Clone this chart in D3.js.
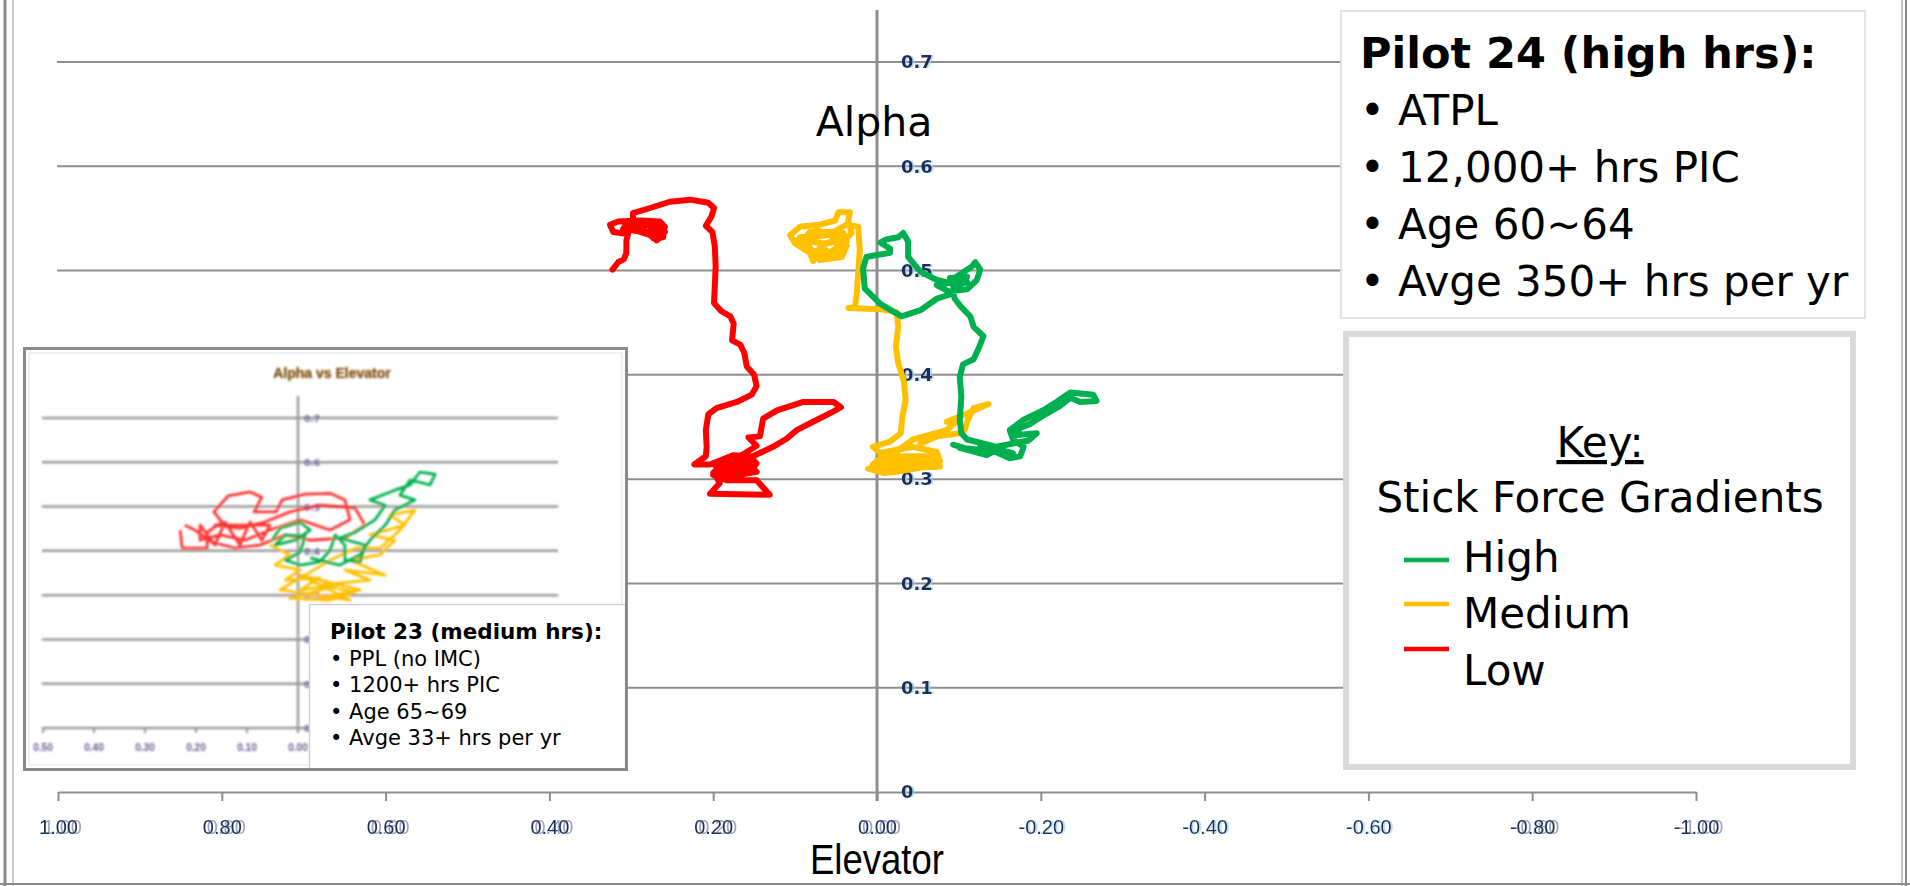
<!DOCTYPE html>
<html>
<head>
<meta charset="utf-8">
<script src="https://cdn.jsdelivr.net/npm/d3@7"></script>
<style>
  html, body { margin: 0; padding: 0; background: #ffffff; }
  svg { display: block; }
</style>
</head>
<body>
<svg id="chart" width="1910" height="886"></svg>
<script>
// ---- Axis ticks ----
const elevatorTicks = [1, 0.8, 0.6, 0.4, 0.2, 0, -0.2, -0.4, -0.6, -0.8, -1];
const alphaTicks = [0, 0.1, 0.2, 0.3, 0.4, 0.5, 0.6, 0.7];

// ---- Pilot 24 traces: elevator position vs alpha, one per stick force gradient ----
const lowElevator = [0.323,0.316,0.309,0.306,0.306,0.304,0.322,0.326,0.316,0.289,
  0.265,0.259,0.261,0.269,0.277,0.293,0.310,0.308,0.281,0.263,
  0.265,0.277,0.263,0.261,0.273,0.267,0.259,0.269,
  0.298,0.298,0.277,0.253,0.228,0.206,0.199,0.202,
  0.209,0.201,0.198,0.197,0.198,0.199,0.190,0.179,0.175,0.177,
  0.167,0.162,0.159,0.150,0.147,0.153,0.171,0.196,0.206,0.209,
  0.208,0.209,0.223,0.204,0.175,0.155,0.147,0.153,0.175,0.200,
  0.192,0.151,0.196,0.167,0.147,0.184,0.200,0.155,
  0.163,0.143,0.127,0.110,0.098,0.078,0.053,0.044,0.053,
  0.090,0.122,0.139,0.143,0.157,0.147,0.167,0.196,0.192,0.204,
  0.131,0.147,0.184,0.200];
const lowAlpha = [0.501,0.508,0.511,0.517,0.529,0.535,0.537,0.544,0.547,0.548,
  0.547,0.542,0.534,0.529,0.534,0.538,0.540,0.542,0.544,0.542,
  0.536,0.539,0.544,0.532,0.531,0.540,0.537,0.529,
  0.548,0.555,0.560,0.566,0.568,0.565,0.560,0.552,
  0.543,0.537,0.523,0.504,0.485,0.469,0.461,0.456,0.449,0.433,
  0.429,0.421,0.408,0.400,0.389,0.381,0.374,0.368,0.362,0.347,
  0.331,0.322,0.314,0.314,0.323,0.322,0.315,0.309,0.306,0.306,
  0.312,0.312,0.307,0.320,0.307,0.302,0.315,0.317,
  0.318,0.325,0.331,0.339,0.347,0.355,0.365,0.369,0.374,
  0.374,0.366,0.358,0.341,0.340,0.332,0.322,0.302,0.296,0.286,
  0.285,0.299,0.299,0.304];

const mediumElevator = [0.078,0.082,0.100,0.106,0.094,0.070,0.051,0.047,0.033,0.035,
  0.031,0.041,0.066,0.090,0.082,0.057,0.037,0.041,0.057,0.070,
  0.053,0.037,0.043,0.070,0.080,
  0.094,0.041,0.049,0.086,0.074,0.037,0.066,0.098,
  0.061,0.037,0.023,0.021,0.023,
  0.025,0.027,0.035,-0.004,-0.024,-0.026,-0.023,-0.026,-0.033,-0.035,
  -0.031,-0.029,-0.016,0.005,-0.004,-0.044,-0.073,-0.077,-0.053,-0.016,
  0.005,-0.004,-0.036,-0.065,-0.061,-0.024,-0.008,0.011,
  -0.073,0.000,-0.061,-0.012,-0.077,-0.004,
  -0.004,-0.044,-0.085,-0.097,-0.085,-0.110,-0.136,-0.118,-0.111,-0.107,-0.101,-0.073,-0.053];
const mediumAlpha = [0.509,0.517,0.526,0.534,0.542,0.544,0.548,0.556,0.556,0.548,
  0.536,0.528,0.526,0.529,0.537,0.537,0.532,0.520,0.517,0.523,
  0.529,0.524,0.513,0.510,0.520,
  0.532,0.536,0.515,0.520,0.539,0.528,0.513,0.529,
  0.534,0.544,0.542,0.520,0.497,
  0.475,0.465,0.464,0.463,0.460,0.446,0.427,0.411,0.393,0.376,
  0.360,0.344,0.336,0.331,0.325,0.331,0.326,0.317,0.312,0.310,
  0.314,0.320,0.322,0.322,0.312,0.307,0.306,0.310,
  0.322,0.318,0.315,0.325,0.312,0.310,
  0.315,0.338,0.347,0.355,0.355,0.363,0.372,0.368,0.357,0.347,0.344,0.341,0.334];

const highElevator = [-0.093,-0.118,-0.146,
  -0.134,-0.101,-0.166,-0.126,-0.162,
  -0.175,-0.179,-0.166,-0.162,-0.179,-0.203,-0.219,
  -0.236,-0.264,-0.268,-0.248,-0.236,-0.223,-0.203,
  -0.211,-0.195,-0.207,
  -0.187,-0.175,-0.166,
  -0.195,-0.185,-0.146,-0.110,-0.103,-0.101,-0.103,-0.101,-0.105,-0.118,
  -0.125,-0.130,-0.118,-0.114,-0.103,-0.095,-0.093,-0.073,-0.053,-0.030,
  -0.004,0.015,0.017,0.013,0.000,-0.016,-0.016,-0.004,-0.012,-0.026,
  -0.032,-0.038,-0.038,-0.053,-0.073,-0.101,-0.110,-0.089,
  -0.093,-0.110,-0.081,
  -0.073,-0.087,
  -0.110,-0.122,-0.126,-0.120,-0.116,-0.097,-0.081];
const highAlpha = [0.333,0.327,0.328,
  0.323,0.330,0.325,0.333,0.320,
  0.322,0.331,0.338,0.347,0.357,0.366,0.374,
  0.383,0.381,0.375,0.374,0.378,0.370,0.361,
  0.368,0.359,0.363,
  0.353,0.349,0.342,
  0.344,0.337,0.331,0.338,0.344,0.357,0.379,0.398,0.410,0.415,
  0.427,0.437,0.446,0.456,0.465,0.473,0.478,0.473,0.462,0.456,
  0.468,0.483,0.502,0.513,0.515,0.517,0.521,0.527,0.530,0.532,
  0.536,0.528,0.513,0.499,0.491,0.486,0.494,0.493,
  0.485,0.489,0.488,
  0.486,0.480,
  0.482,0.491,0.501,0.508,0.504,0.494,0.486];

// ---- Pilot 23 inset traces ----
const insetTicksX = [0.5, 0.4, 0.3, 0.2, 0.1, 0];
const insetTicksY = [0, 0.1, 0.2, 0.3, 0.4, 0.5, 0.6, 0.7];
const insetLowElevator = [0.231,0.227,0.178,0.178,0.149,0.165,0.137,0.094,0.071,0.086,
  0.043,0.031,-0.014,-0.063,-0.092,-0.102,-0.063,-0.004,0.055,0.104,
  0.153,0.192,0.192,0.163,0.143,0.114,0.094,0.071,0.055,
  0.163,0.114,0.065,0.016,-0.043,-0.112,-0.131,-0.092,
  -0.024,0.025,0.075,0.124,0.169,0.202,0.222];
const insetLowAlpha = [0.447,0.406,0.406,0.442,0.465,0.488,0.524,0.533,0.521,0.488,
  0.488,0.515,0.528,0.530,0.515,0.470,0.447,0.470,0.447,0.424,
  0.436,0.424,0.458,0.413,0.465,0.413,0.465,0.424,0.458,
  0.458,0.451,0.465,0.488,0.503,0.497,0.458,0.429,
  0.424,0.436,0.413,0.406,0.420,0.447,0.458];
const insetMediumElevator = [0.055,0.016,0.045,-0.004,0.025,-0.043,-0.004,-0.082,0.016,-0.063,
  -0.112,-0.043,-0.141,-0.092,-0.171,-0.102,-0.161,-0.190,-0.141,-0.210,
  -0.180,-0.229,-0.200,-0.161,-0.112,-0.063,-0.024,
  0.035,-0.102,-0.004,-0.122,-0.043];
const insetMediumAlpha = [0.413,0.391,0.368,0.357,0.334,0.339,0.312,0.323,0.293,0.289,
  0.307,0.323,0.334,0.357,0.345,0.379,0.391,0.424,0.436,0.458,
  0.481,0.492,0.447,0.406,0.406,0.379,0.352,
  0.312,0.289,0.345,0.312,0.293];
const insetHighElevator = [0.051,0.035,-0.004,-0.024,0.006,0.045,0.025,-0.014,-0.004,0.025,
  -0.004,-0.043,-0.063,-0.073,-0.092,-0.092,-0.122,-0.131,-0.082,-0.112,
  -0.151,-0.171,-0.141,-0.190,-0.220,-0.239,-0.269,-0.259,-0.220,-0.200,
  -0.229,-0.190,-0.171,-0.141,-0.122,-0.082,-0.024];
const insetHighAlpha = [0.424,0.451,0.465,0.447,0.424,0.413,0.436,0.433,0.397,0.379,
  0.368,0.375,0.402,0.436,0.413,0.379,0.375,0.413,0.429,0.442,
  0.470,0.503,0.515,0.537,0.549,0.578,0.573,0.549,0.560,0.526,
  0.515,0.492,0.458,0.424,0.391,0.368,0.384];

// ---- Text blocks ----
const pilot24Title = "Pilot 24 (high hrs):";
const pilot24Lines = ["ATPL", "12,000+ hrs PIC", "Age 60~64", "Avge 350+ hrs per yr"];
const pilot23Title = "Pilot 23 (medium hrs):";
const pilot23Lines = ["PPL (no IMC)", "1200+ hrs PIC", "Age 65~69", "Avge 33+ hrs per yr"];
const keyTitle = "Key:";
const keySubtitle = "Stick Force Gradients";
const gradientNames = ["High", "Medium", "Low"];

// ---- Drawing ----
const svg = d3.select("#chart");
const defs = svg.append("defs");
const GRID = "#8e8e8e";
const TICK_INK = "#1f2d55";
const seriesColor = { High: "#00b050", Medium: "#ffc000", Low: "#ff0000" };

// colour fringe behind tick labels
function fringe(id, dx, r, g, b, a) {
  const f = defs.append("filter").attr("id", id)
    .attr("x", "-30%").attr("y", "-30%").attr("width", "160%").attr("height", "160%");
  f.append("feOffset").attr("in", "SourceAlpha").attr("dx", dx).attr("dy", 0).attr("result", "off");
  f.append("feColorMatrix").attr("in", "off").attr("type", "matrix")
    .attr("values", `0 0 0 0 ${r}  0 0 0 0 ${g}  0 0 0 0 ${b}  0 0 0 ${a} 0`).attr("result", "col");
  const m = f.append("feMerge");
  m.append("feMergeNode").attr("in", "col");
  m.append("feMergeNode").attr("in", "SourceGraphic");
}
fringe("ghost", 1.5, 0.35, 0.65, 1, 0.75);
fringe("ghostWide", 4, 0.25, 0.3, 0.5, 0.85);
defs.append("filter").attr("id", "soft").append("feGaussianBlur").attr("stdDeviation", 0.45);
defs.append("filter").attr("id", "blurry").append("feGaussianBlur").attr("stdDeviation", 0.8);

// outer frame
svg.append("line").attr("x1", 5).attr("x2", 5).attr("y1", 0).attr("y2", 886).attr("stroke", "#8a8a8a").attr("stroke-width", 3);
svg.append("line").attr("x1", 13).attr("x2", 13).attr("y1", 0).attr("y2", 886).attr("stroke", "#c8c8c8").attr("stroke-width", 2);
svg.append("line").attr("x1", 1902).attr("x2", 1902).attr("y1", 0).attr("y2", 886).attr("stroke", "#c0c0c0").attr("stroke-width", 2);
svg.append("line").attr("x1", 1906).attr("x2", 1906).attr("y1", 0).attr("y2", 886).attr("stroke", "#8a8a8a").attr("stroke-width", 2);
svg.append("line").attr("x1", 0).attr("x2", 1910).attr("y1", 884).attr("y2", 884).attr("stroke", "#8a8a8a").attr("stroke-width", 2);

// main scales
const x = d3.scaleLinear().domain([1, -1]).range([58, 1696]);
const y = d3.scaleLinear().domain([0, 0.7]).range([792, 62]);

// horizontal gridlines
svg.append("g").selectAll("line").data(alphaTicks.filter(d => d > 0)).join("line")
  .attr("x1", 57).attr("x2", x(-1))
  .attr("y1", d => y(d)).attr("y2", d => y(d))
  .attr("stroke", GRID).attr("stroke-width", 2);

// elevator axis
const fmtElev = d => (d < 0 ? "-" : "") + Math.abs(d).toFixed(2);
const gx = svg.append("g").attr("transform", `translate(0,${y(0)})`)
  .call(d3.axisBottom(x).tickValues(elevatorTicks).tickFormat(fmtElev)
    .tickSize(9).tickSizeOuter(0).tickPadding(19));
gx.select(".domain").attr("stroke", GRID).attr("stroke-width", 2);
gx.selectAll(".tick line").attr("stroke", GRID).attr("stroke-width", 2);
gx.selectAll(".tick text")
  .attr("font-family", "'Liberation Sans Narrow', 'Liberation Sans', sans-serif")
  .attr("font-size", 20).attr("fill", TICK_INK)
  .attr("filter", d => (d >= 0 || d <= -0.8) ? "url(#ghostWide)" : "url(#ghost)");

// alpha axis line and labels
svg.append("line").attr("x1", x(0)).attr("x2", x(0)).attr("y1", 10).attr("y2", 801)
  .attr("stroke", GRID).attr("stroke-width", 3);
const gy = svg.append("g").attr("transform", `translate(${x(0)},0)`)
  .call(d3.axisRight(y).tickValues(alphaTicks).tickSize(0).tickPadding(24)
    .tickFormat(d => d === 0 ? "0" : d.toFixed(1)));
gy.select(".domain").remove();
gy.selectAll(".tick text")
  .attr("font-family", "'DejaVu Sans', sans-serif").attr("font-weight", "bold")
  .attr("font-size", 18).attr("fill", TICK_INK).attr("filter", "url(#ghost)");

// traces
const line = d3.line().x(d => x(d[0])).y(d => y(d[1]));
const mainSeries = [
  { name: "Low", xs: lowElevator, ys: lowAlpha },
  { name: "Medium", xs: mediumElevator, ys: mediumAlpha },
  { name: "High", xs: highElevator, ys: highAlpha }
];
svg.append("g").attr("filter", "url(#soft)").selectAll("path").data(mainSeries).join("path")
  .attr("d", s => line(d3.zip(s.xs, s.ys)))
  .attr("fill", "none").attr("stroke", s => seriesColor[s.name])
  .attr("stroke-width", 6).attr("stroke-linejoin", "round").attr("stroke-linecap", "round");

// axis titles
svg.append("text").attr("x", 874).attr("y", 136).attr("text-anchor", "middle")
  .attr("font-family", "'DejaVu Sans', sans-serif").attr("font-size", 41).attr("fill", "#000")
  .text("Alpha");
svg.append("text").attr("x", 877).attr("y", 874).attr("text-anchor", "middle")
  .attr("font-family", "'Liberation Sans Narrow', 'Liberation Sans', sans-serif").attr("font-size", 43)
  .attr("textLength", 134).attr("lengthAdjust", "spacingAndGlyphs").attr("fill", "#000")
  .text("Elevator");

// ---- Pilot 23 inset chart ----
const inset = svg.append("g");
inset.append("rect").attr("x", 24.5).attr("y", 348.5).attr("width", 602).attr("height", 421)
  .attr("fill", "#fff");
inset.append("rect").attr("x", 29).attr("y", 353).attr("width", 593).attr("height", 412)
  .attr("fill", "none").attr("stroke", "#ececec").attr("stroke-width", 1.5);
const ix = d3.scaleLinear().domain([0.5, -0.5]).range([43, 553]);
const iy = d3.scaleLinear().domain([0, 0.7]).range([728, 418]);
const insetBody = inset.append("g").attr("filter", "url(#blurry)");
insetBody.append("g").selectAll("line").data(insetTicksY.filter(d => d > 0)).join("line")
  .attr("x1", 42).attr("x2", 558).attr("y1", d => iy(d)).attr("y2", d => iy(d))
  .attr("stroke", "#9a9a9a").attr("stroke-width", 2.5);
insetBody.append("line").attr("x1", 42).attr("x2", 558).attr("y1", iy(0)).attr("y2", iy(0))
  .attr("stroke", "#9a9a9a").attr("stroke-width", 2.5);
insetBody.append("line").attr("x1", ix(0)).attr("x2", ix(0)).attr("y1", 396).attr("y2", 733)
  .attr("stroke", "#9a9a9a").attr("stroke-width", 2.5);
insetBody.append("g").selectAll("line").data(insetTicksX).join("line")
  .attr("x1", d => ix(d)).attr("x2", d => ix(d)).attr("y1", iy(0)).attr("y2", iy(0) + 5)
  .attr("stroke", "#9a9a9a").attr("stroke-width", 2);
insetBody.append("g").selectAll("text").data(insetTicksX).join("text")
  .attr("x", d => ix(d)).attr("y", 751).attr("text-anchor", "middle")
  .attr("font-family", "'Liberation Sans Narrow', 'Liberation Sans', sans-serif")
  .attr("font-size", 10).attr("font-weight", "bold").attr("fill", "#6a5a8a")
  .text(d => d.toFixed(2));
insetBody.append("g").selectAll("text").data(insetTicksY).join("text")
  .attr("x", ix(0) + 6).attr("y", d => iy(d) + 4)
  .attr("font-family", "'DejaVu Sans', sans-serif").attr("font-size", 9)
  .attr("font-weight", "bold").attr("fill", "#6a6a9a")
  .text(d => d === 0 ? "0" : d.toFixed(1));
insetBody.append("text").attr("x", 332).attr("y", 378).attr("text-anchor", "middle")
  .attr("font-family", "'Liberation Sans Narrow', 'Liberation Sans', sans-serif")
  .attr("font-size", 14).attr("font-weight", "bold").attr("fill", "#2a2218")
  .attr("stroke", "#c99040").attr("stroke-width", 0.7)
  .text("Alpha vs Elevator");
const iline = d3.line().x(d => ix(d[0])).y(d => iy(d[1]));
const insetSeries = [
  { name: "Low", xs: insetLowElevator, ys: insetLowAlpha },
  { name: "Medium", xs: insetMediumElevator, ys: insetMediumAlpha },
  { name: "High", xs: insetHighElevator, ys: insetHighAlpha }
];
insetBody.append("g").selectAll("path").data(insetSeries).join("path")
  .attr("d", s => iline(d3.zip(s.xs, s.ys)))
  .attr("fill", "none").attr("stroke", s => seriesColor[s.name])
  .attr("stroke-opacity", s => s.name === "Low" ? 0.8 : 1)
  .attr("stroke-width", 2.8).attr("stroke-linejoin", "round");

// Pilot 23 details box
inset.append("rect").attr("x", 309.5).attr("y", 604.5).attr("width", 316).attr("height", 165)
  .attr("fill", "#fff").attr("stroke", "#d0d0d0").attr("stroke-width", 1.5);
inset.append("text").attr("x", 330).attr("y", 639)
  .attr("font-family", "'DejaVu Sans', sans-serif").attr("font-weight", "bold")
  .attr("font-size", 21.5).attr("fill", "#000").text(pilot23Title);
inset.append("g").selectAll("text").data(pilot23Lines).join("text")
  .attr("x", 330).attr("y", (d, i) => 666 + i * 26.3)
  .attr("font-family", "'DejaVu Sans', sans-serif").attr("font-size", 21)
  .attr("fill", "#000").text(d => "\u2022 " + d);

// inset border on top
inset.append("rect").attr("x", 24.5).attr("y", 348.5).attr("width", 602).attr("height", 421)
  .attr("fill", "none").attr("stroke", "#8a8a8a").attr("stroke-width", 3);

// ---- Pilot 24 details box ----
svg.append("rect").attr("x", 1341).attr("y", 11).attr("width", 524).attr("height", 307)
  .attr("fill", "#fff").attr("stroke", "#e2e2e2").attr("stroke-width", 2);
svg.append("text").attr("x", 1360).attr("y", 68)
  .attr("font-family", "'DejaVu Sans', sans-serif").attr("font-weight", "bold")
  .attr("font-size", 43).attr("fill", "#000").text(pilot24Title);
svg.append("g").selectAll("text").data(pilot24Lines).join("text")
  .attr("x", 1360).attr("y", (d, i) => 125 + i * 57)
  .attr("font-family", "'DejaVu Sans', sans-serif").attr("font-size", 42)
  .attr("fill", "#000").text(d => "\u2022 " + d);

// ---- Key box ----
svg.append("rect").attr("x", 1346).attr("y", 334).attr("width", 507).attr("height", 433)
  .attr("fill", "#fff").attr("stroke", "#dadada").attr("stroke-width", 6);
svg.append("text").attr("x", 1600).attr("y", 457).attr("text-anchor", "middle")
  .attr("font-family", "'DejaVu Sans', sans-serif").attr("font-size", 42)
  .attr("text-decoration", "underline").attr("fill", "#000").text(keyTitle);
svg.append("text").attr("x", 1600).attr("y", 512).attr("text-anchor", "middle")
  .attr("font-family", "'DejaVu Sans', sans-serif").attr("font-size", 42)
  .attr("fill", "#000").text(keySubtitle);
const keyLineY = [560, 604, 649];
const keyTextY = [572, 628, 685];
const key = svg.append("g").selectAll("g").data(gradientNames).join("g");
key.append("line").attr("x1", 1404).attr("x2", 1449)
  .attr("y1", (d, i) => keyLineY[i]).attr("y2", (d, i) => keyLineY[i])
  .attr("stroke", d => seriesColor[d]).attr("stroke-width", 4.5);
key.append("text").attr("x", 1463).attr("y", (d, i) => keyTextY[i])
  .attr("font-family", "'DejaVu Sans', sans-serif").attr("font-size", 42)
  .attr("fill", "#000").text(d => d);
</script>
</body>
</html>
